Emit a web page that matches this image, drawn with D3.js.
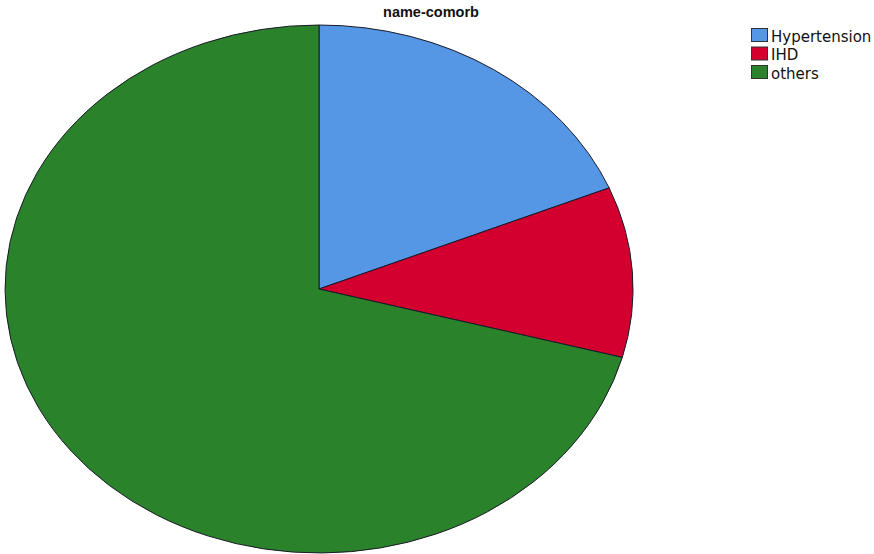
<!DOCTYPE html>
<html><head><meta charset="utf-8">
<script src="https://cdn.jsdelivr.net/npm/d3@7"></script>
<style>body{margin:0;background:#fff;}</style>
</head><body>
<svg id="c" width="874" height="554"></svg>
<script>
const categories = ["Hypertension", "IHD", "others"];
const counts = [9, 5, 34];
const colors = ["#5596e5", "#d3002f", "#2a832a"];
const title = "name-comorb";

const svg = d3.select("#c");
const cx = 319, cy = 289, rx = 314, ry = 264;

const pie = d3.pie().sort(null).value(d => d)(counts);
const arc = d3.arc().innerRadius(0).outerRadius(1);

const g = svg.append("g").attr("transform", `translate(${cx},${cy}) scale(${rx},${ry})`);
g.selectAll("path").data(pie).enter().append("path")
  .attr("d", arc)
  .attr("fill", (d, i) => colors[i])
  .attr("stroke", "#1a1a2a")
  .attr("stroke-width", 1)
  .attr("vector-effect", "non-scaling-stroke");

svg.append("text").attr("x", 431).attr("y", 17).attr("text-anchor", "middle")
  .attr("font-family", "Liberation Sans, Arial, sans-serif").attr("font-weight", "bold")
  .attr("font-size", 14.5).attr("fill", "#111").text(title);

const leg = svg.append("g").attr("transform", "translate(751,28)");
categories.forEach((c, i) => {
  const row = leg.append("g").attr("transform", `translate(0,${i * 18.5})`);
  row.append("rect").attr("x", 0.5).attr("y", 0.5).attr("width", 16).attr("height", 13)
    .attr("fill", colors[i]).attr("stroke", "#333").attr("stroke-width", 1);
  row.append("text").attr("x", 20).attr("y", 13.5).attr("font-family", "DejaVu Sans, sans-serif")
    .attr("font-size", 15).attr("fill", "#111").text(c);
});
</script>
</body></html>
